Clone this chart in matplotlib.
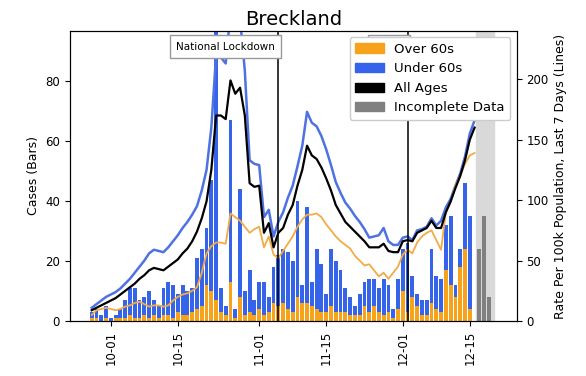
import pandas as pd
import numpy as np
import matplotlib
matplotlib.use('Agg')
import matplotlib.pyplot as plt
import matplotlib.dates as mdates
from matplotlib.patches import Patch

# ==========================================================
# DADOS
# ==========================================================
inicio = '2020-09-27'

# casos diarios (barras), 27/09 ate 15/12
casos_total = [3, 4, 2, 5, 1, 2, 4, 7, 11, 11, 7, 8, 10, 7, 5, 11, 13, 12, 9, 12,
               10, 11, 21, 24, 31, 47, 105, 11, 5, 67, 4, 44, 10, 17, 7, 13, 13, 8, 18, 22,
               24, 23, 20, 40, 12, 38, 13, 24, 19, 9, 24, 20, 17, 11, 8, 5, 9, 13, 14, 14,
               11, 14, 12, 4, 14, 24, 26, 15, 9, 7, 7, 24, 15, 14, 32, 35, 12, 24, 46, 35]
casos_60mais = [1, 1, 0, 1, 0, 1, 1, 1, 2, 1, 1, 2, 1, 2, 1, 2, 2, 1, 3, 2,
                2, 3, 4, 5, 12, 10, 7, 3, 2, 13, 1, 8, 2, 3, 2, 4, 2, 3, 6, 5,
                6, 4, 3, 8, 6, 6, 5, 4, 3, 3, 5, 3, 3, 3, 2, 2, 2, 5, 3, 5,
                3, 2, 3, 1, 4, 10, 3, 8, 5, 2, 2, 6, 4, 3, 17, 12, 8, 18, 24, 4]

# dados incompletos (cinza)
datas_incompletas = ['2020-12-17', '2020-12-18', '2020-12-19']
casos_incompletos = [24, 35, 8]

# taxas por 100k (linhas), 27/09 ate 17/12
taxa_todas = [9, 11, 13, 15, 17, 19, 22, 25, 28, 31, 35, 38, 42, 44, 43, 42, 45, 48, 51, 56,
              60, 66, 74, 85, 99, 125, 170, 170, 167, 199, 188, 193, 170, 114, 111, 112, 73, 81, 61, 73,
              77, 88, 96, 112, 125, 145, 137, 134, 127, 118, 108, 96, 89, 82, 78, 74, 70, 66, 61, 61,
              61, 64, 58, 57, 57, 66, 67, 66, 73, 75, 77, 83, 77, 77, 90, 99, 110, 120, 133, 150, 160]
taxa_menos60 = [11, 14, 17, 20, 22, 24, 27, 31, 35, 40, 45, 50, 56, 59, 58, 57, 61, 66, 71, 77,
                82, 88, 95, 108, 125, 160, 220, 218, 213, 255, 240, 250, 207, 133, 130, 129, 86, 92, 70, 82,
                90, 102, 112, 128, 145, 173, 164, 161, 153, 142, 129, 115, 106, 98, 93, 87, 82, 76, 69, 70,
                71, 77, 66, 63, 63, 69, 70, 67, 75, 76, 78, 85, 79, 83, 94, 101, 112, 122, 136, 155, 166]
taxa_60mais = [5, 9, 10, 11, 10, 9, 10, 12, 13, 15, 16, 14, 12, 13, 13, 12, 13, 17, 20, 22,
               23, 25, 28, 40, 56, 62, 65, 65, 64, 89, 86, 83, 78, 73, 76, 78, 61, 70, 55, 52,
               58, 64, 70, 78, 84, 88, 88, 89, 86, 80, 75, 70, 66, 63, 60, 54, 50, 46, 47, 42,
               37, 40, 35, 40, 45, 55, 59, 56, 65, 70, 73, 75, 67, 59, 90, 98, 112, 120, 130, 137, 139]

eventos = [('2020-11-05', 'National Lockdown'), ('2020-12-02', 'Tier 2')]

# ==========================================================
# PREPARAR
# ==========================================================
datas_barras = pd.date_range(inicio, periods=len(casos_total), freq='D')
datas_linhas = pd.date_range(inicio, periods=len(taxa_todas), freq='D')
casos_menos60 = np.array(casos_total) - np.array(casos_60mais)

cor_laranja = '#f7a21b'
cor_azul = '#3563e9'
cor_linha_azul = '#4f72e3'
cor_linha_laranja = '#f2ab45'

# ==========================================================
# FIGURA
# ==========================================================
fig = plt.figure(figsize=(5.86, 3.76), dpi=100)
ax1 = fig.add_axes([0.119, 0.146, 0.763, 0.772])
ax2 = ax1.twinx()

ax1.bar(datas_barras, casos_60mais, width=0.8, color=cor_laranja)
ax1.bar(datas_barras, casos_menos60, width=0.8, bottom=casos_60mais, color=cor_azul)
ax1.bar(pd.to_datetime(datas_incompletas), casos_incompletos, width=0.8, color='#808080')
ax1.axvspan(pd.Timestamp('2020-12-16 07:00'), pd.Timestamp('2020-12-20'), color='#d9d9d9', zorder=0)

ax2.plot(datas_linhas, taxa_menos60, color=cor_linha_azul, linewidth=1.8)
ax2.plot(datas_linhas, taxa_60mais, color=cor_linha_laranja, linewidth=1.3)
ax2.plot(datas_linhas, taxa_todas, color='black', linewidth=1.6)

# linhas verticais + caixas de texto (a de Tier 2 fica atras da legenda, como no original)
for data, texto in eventos:
    d = pd.Timestamp(data)
    ax2.axvline(d, color='black', linewidth=1.1)
    ax2.text(d - pd.Timedelta(hours=18), 227, texto, ha='right', va='center', fontsize=7.5,
             bbox=dict(boxstyle='square,pad=0.6', facecolor='white', edgecolor='#999999'))

ax1.set_xlim(pd.Timestamp('2020-09-22 10:00'), pd.Timestamp('2020-12-24 20:00'))
ax1.set_ylim(0, 96.7)
ax2.set_ylim(0, 240)
ax1.set_yticks([0, 20, 40, 60, 80])
ax2.set_yticks([0, 50, 100, 150, 200])

ax1.xaxis.set_major_locator(mdates.DayLocator(bymonthday=[1, 15]))
ax1.xaxis.set_major_formatter(mdates.DateFormatter('%m-%d'))
plt.setp(ax1.get_xticklabels(), rotation=90)

ax1.tick_params(labelsize=8.5)
ax2.tick_params(labelsize=8.5)
ax1.set_ylabel('Cases (Bars)', fontsize=9)
ax2.set_ylabel('Rate Per 100k Population, Last 7 Days (Lines)', fontsize=9)
ax1.set_title('Breckland', fontsize=14, pad=4)

legenda = [Patch(color=cor_laranja, label='Over 60s'),
           Patch(color=cor_azul, label='Under 60s'),
           Patch(color='black', label='All Ages'),
           Patch(color='#808080', label='Incomplete Data')]
leg = ax2.legend(handles=legenda, loc='upper right', fontsize=9.5, framealpha=1,
                 borderaxespad=0.5, handlelength=2.2)
leg.set_zorder(10)

fig.savefig('out.png', dpi=100)
